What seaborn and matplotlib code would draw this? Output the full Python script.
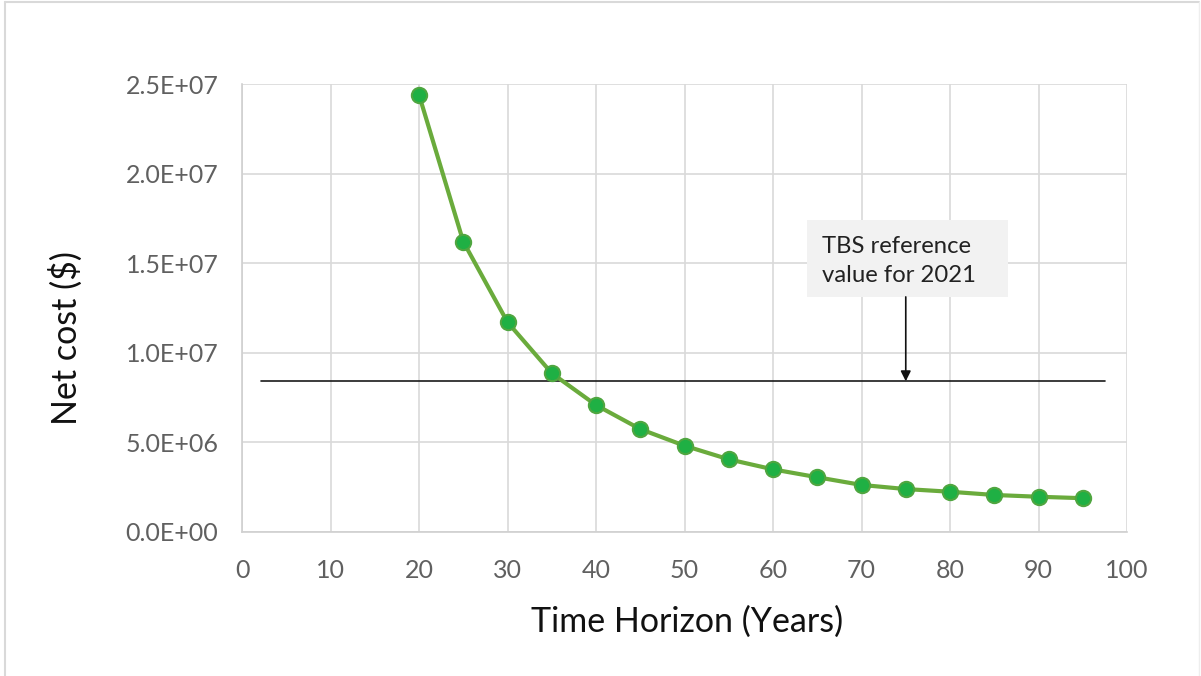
import matplotlib
matplotlib.use("Agg")
import matplotlib.pyplot as plt
import seaborn as sns
import pandas as pd
from matplotlib.lines import Line2D
from matplotlib.patches import Rectangle
from matplotlib.ticker import FuncFormatter

# Net cost by time horizon
years = [20, 25, 30, 35, 40, 45, 50, 55, 60, 65, 70, 75, 80, 85, 90, 95]
net_cost = [2.44e7, 1.62e7, 1.17e7, 8.85e6, 7.07e6, 5.73e6, 4.80e6, 4.04e6,
            3.48e6, 3.04e6, 2.61e6, 2.38e6, 2.23e6, 2.05e6, 1.95e6, 1.87e6]

# TBS reference value for 2021
ref_value = 8.4e6
ref_span = [2.2, 97.5]
ref_arrow_x = 75
ref_label = "TBS reference\nvalue for 2021"

x_ticks = list(range(0, 101, 10))
y_ticks = [0, 5e6, 1e7, 1.5e7, 2e7, 2.5e7]

sns.set_theme(style="white")
plt.rcParams["font.family"] = ["Lato", "DejaVu Sans"]

fig = plt.figure(figsize=(12.01, 6.76), dpi=100)
ax = fig.add_axes([0.2015, 0.2135, 0.7369, 0.6622])

df = pd.DataFrame({"years": years, "cost": net_cost})
sns.lineplot(data=df, x="years", y="cost", ax=ax, color="#6aab3c", linewidth=3.0,
             marker="o", markersize=11, markerfacecolor="#1fb044",
             markeredgecolor="#4fa640", markeredgewidth=1.5, zorder=3)

ax.plot(ref_span, [ref_value, ref_value], color="#1a1a1a", linewidth=1.2, zorder=2)

ax.set_xlim(0, 100)
ax.set_ylim(0, 2.5e7)
ax.set_xticks(x_ticks)
ax.set_yticks(y_ticks)
ax.yaxis.set_major_formatter(FuncFormatter(
    lambda v, p: "{:.1E}".format(v)))

ax.grid(True, color="#d9d9d9", linewidth=1.2)
ax.set_axisbelow(True)
for side in ["top", "right"]:
    ax.spines[side].set_visible(False)
for side in ["left", "bottom"]:
    ax.spines[side].set_color("#d0d0d0")
    ax.spines[side].set_linewidth(1.2)

ax.tick_params(axis="both", length=0, labelsize=18, colors="#606060")
ax.tick_params(axis="x", pad=20)
ax.tick_params(axis="y", pad=17)

ax.set_xlabel("Time Horizon (Years)", fontsize=24.5, color="#111111")
ax.set_ylabel("Net cost ($)", fontsize=24.5, color="#111111")
ax.xaxis.set_label_coords(0.503, -0.165)
ax.yaxis.set_label_coords(-0.18, 0.433)

# Callout box with arrow to the reference line
ax.add_patch(Rectangle((63.84, 1.311e7), 86.55 - 63.84, 1.741e7 - 1.311e7,
                       facecolor="#f2f2f2", edgecolor="none", zorder=4))
ax.annotate("", xy=(ref_arrow_x, ref_value), xytext=(ref_arrow_x, 1.311e7),
            arrowprops=dict(arrowstyle="-|>", color="#111111", lw=1.2,
                            mutation_scale=15, shrinkA=0, shrinkB=0), zorder=4)
ax.text(65.5, 1.512e7, ref_label, fontsize=17.2, color="#222222",
        ha="left", va="center", linespacing=1.5, zorder=5)

# Chart-area frame
frame_color = "#d9d9d9"
fig.add_artist(Line2D([4.5 / 1201, 4.5 / 1201], [0, 1 - 2 / 676],
                      transform=fig.transFigure, color=frame_color, lw=1.5))
fig.add_artist(Line2D([4.5 / 1201, 1199 / 1201], [1 - 2 / 676, 1 - 2 / 676],
                      transform=fig.transFigure, color=frame_color, lw=1.5))
fig.add_artist(Line2D([1199 / 1201, 1199 / 1201], [0, 1 - 2 / 676],
                      transform=fig.transFigure, color="#eeeeee", lw=1.0))

fig.savefig("out.png", dpi=100, facecolor="white")
